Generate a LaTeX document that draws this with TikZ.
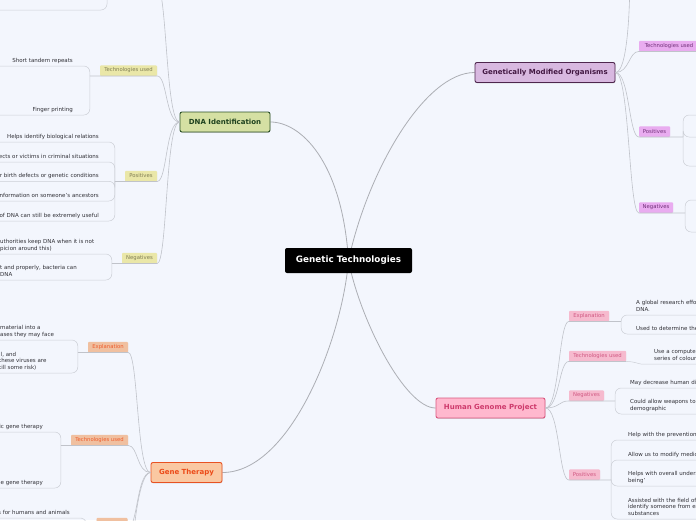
\documentclass[tikz,border=0pt]{standalone}
\usepackage{fontspec}
\setmainfont{DejaVu Sans}
\usetikzlibrary{backgrounds, shadows, calc}
\definecolor{canvas}{RGB}{243,246,253}
\definecolor{trunkgray}{RGB}{172,174,180}
\definecolor{linkgray}{RGB}{192,195,202}
\definecolor{twiggray}{RGB}{204,207,214}
\definecolor{leaftext}{RGB}{48,48,54}
\definecolor{dnafill}{RGB}{213,224,163}
\definecolor{dnaedge}{RGB}{44,82,40}
\definecolor{dnatext}{RGB}{30,66,30}
\definecolor{dnasubfill}{RGB}{234,231,168}
\definecolor{dnasubtext}{RGB}{128,126,84}
\definecolor{gmofill}{RGB}{216,184,224}
\definecolor{gmoedge}{RGB}{78,38,78}
\definecolor{gmotext}{RGB}{66,24,66}
\definecolor{gmosubfill}{RGB}{233,172,240}
\definecolor{gmosubtext}{RGB}{112,48,120}
\definecolor{genefill}{RGB}{250,200,162}
\definecolor{geneedge}{RGB}{232,82,34}
\definecolor{genetext}{RGB}{236,74,24}
\definecolor{genesubfill}{RGB}{240,192,160}
\definecolor{genesubtext}{RGB}{238,92,44}
\definecolor{hgpfill}{RGB}{255,184,206}
\definecolor{hgpedge}{RGB}{218,88,128}
\definecolor{hgptext}{RGB}{206,58,108}
\definecolor{hgpsubfill}{RGB}{246,186,206}
\definecolor{hgpsubtext}{RGB}{208,88,130}

\begin{document}
\begin{tikzpicture}[
  x=1pt, y=-1pt,
  root/.style={fill=black, rounded corners=2pt, text=white, font=\fontsize{8.8}{10}\selectfont\bfseries, minimum width=127pt, minimum height=25pt},
  topic/.style={draw, line width=0.9pt, rounded corners=2pt, font=\fontsize{7}{8}\selectfont\bfseries, minimum height=20pt, drop shadow={shadow xshift=0.3pt, shadow yshift=-0.8pt, opacity=0.3}},
  sub/.style={rounded corners=1pt, font=\fontsize{5.3}{6}\selectfont, minimum height=10.5pt, inner xsep=2pt, inner ysep=0pt, drop shadow={shadow xshift=0pt, shadow yshift=-0.6pt, opacity=0.15}},
  dnasub/.style={sub, fill=dnasubfill, text=dnasubtext},
  gmosub/.style={sub, fill=gmosubfill, text=gmosubtext},
  genesub/.style={sub, fill=genesubfill, text=genesubtext},
  hgpsub/.style={sub, fill=hgpsubfill, text=hgpsubtext},
  leaf/.style={font=\fontsize{5.5}{6.5}\selectfont, text=leaftext, inner xsep=0pt, inner ysep=1.4pt, execute at end node={\strut}},
  leafl/.style={leaf, anchor=south east, align=right, text width=140pt},
  leafm/.style={leaf, anchor=south west, align=left},
  leafr/.style={leaf, anchor=south west, align=left, text width=150pt},
  trunk/.style={draw=trunkgray, line width=0.8pt},
  link/.style={draw=linkgray, line width=0.6pt},
  twig/.style={draw=twiggray, line width=0.5pt, rounded corners=6pt}
]
\useasboundingbox (0,0) rectangle (696,520);
\clip (0,0) rectangle (696,520);

% centre and main topics
\node[root] (genetic) at (348.5,260.5) {Genetic Technologies};
\node[topic, fill=dnafill, draw=dnaedge, text=dnatext, minimum width=90pt] (dna) at (225,122) {DNA Identification};
\node[topic, fill=gmofill, draw=gmoedge, text=gmotext, minimum width=140pt] (gmo) at (545,72.5) {Genetically Modified Organisms};
\node[topic, fill=genefill, draw=geneedge, text=genetext, minimum width=71pt] (gene) at (186.5,472.5) {Gene Therapy};
\node[topic, fill=hgpfill, draw=hgpedge, text=hgptext, minimum width=109pt] (hgp) at (490.5,408) {Human Genome Project};

% DNA Identification
\coordinate (dnaexp) at (157,-14);
\node[dnasub, minimum width=57pt] (dnatech) at (128.5,70.5) {Technologies used};
\node[dnasub, minimum width=32pt] (dnapos) at (141,176) {Positives};
\node[dnasub, minimum width=35pt] (dnaneg) at (139.5,258) {Negatives};

\draw[link] (dna.west) .. controls +(-14,0) and +(10,0) .. (dnaexp) -- ++(-50,0) coordinate (dnaexpj);
\draw[link] (dna.west) .. controls +(-14,0) and +(10,0) .. (dnatech.south east) -- (dnatech.south west) -- ++(-10,0) coordinate (dnatechj);
\draw[link] (dna.west) .. controls +(-14,0) and +(10,0) .. (dnapos.south east) -- (dnapos.south west) -- ++(-10,0) coordinate (dnaposj);
\draw[link] (dna.west) .. controls +(-14,0) and +(10,0) .. (dnaneg.south east) -- (dnaneg.south west) -- ++(-10,0) coordinate (dnanegj);

\coordinate (dnaex1) at (-10,10);
\node[leafl] (dnat1) at (73,66) {Short tandem repeats};
\node[leafl] (dnat2) at (73,115) {Finger printing};
\node[leafl] (dnap1) at (99,142) {Helps identify biological relations};
\node[leafl] (dnap2) at (99,162) {ects or victims in criminal situations};
\node[leafl] (dnap3) at (99,181.25) {r birth defects or genetic conditions};
\node[leafl] (dnap4) at (99,201) {information on someone's ancestors};
\node[leafl] (dnap5) at (99,221) {of DNA can still be extremely useful};
\node[leafm] (dnan1) at (0,254) {uthorities keep DNA when it is not\\picion around this)};
\node[leafm] (dnan2) at (0,280) {t and properly, bacteria can\\DNA};

\draw[twig] (dnaexpj) |- (dnaex1);
\foreach \n in {dnat1,dnat2} \draw[twig] (dnatechj) |- (\n.south west);
\foreach \n in {dnap1,dnap2,dnap3,dnap4,dnap5} \draw[twig] (dnaposj) |- (\n.south west);
\foreach \n in {dnan1,dnan2} \draw[twig] (dnanegj) |- ([xshift=-2pt]\n.south west);

% Genetically Modified Organisms
\coordinate (gmotop) at (630,-30);
\node[gmosub, minimum width=60pt] (gmotech) at (669,46) {Technologies used};
\node[gmosub, minimum width=31pt] (gmopos) at (654.5,131.5) {Positives};
\node[gmosub, minimum width=34pt] (gmoneg) at (656,207.5) {Negatives};

\draw[link] (gmo.east) .. controls +(12,0) and +(0,40) .. (gmotop);
\draw[link] (gmo.east) .. controls +(14,0) and +(-10,0) .. (gmotech.south west) -- (gmotech.south east) -- ++(10,0);
\draw[link] (gmo.east) .. controls +(14,0) and +(-10,0) .. (gmopos.south west) -- (gmopos.south east) -- ++(13,0) coordinate (gmoposj);
\draw[link] (gmo.east) .. controls +(14,0) and +(-10,0) .. (gmoneg.south west) -- (gmoneg.south east) -- ++(12,0) coordinate (gmonegj);

\coordinate (gmop1) at (720,115);
\coordinate (gmop2) at (720,137);
\coordinate (gmop3) at (720,166);
\coordinate (gmon1) at (720,200);
\coordinate (gmon2) at (720,232);
\foreach \n in {gmop1,gmop2,gmop3} \draw[twig] (gmoposj) |- (\n);
\foreach \n in {gmon1,gmon2} \draw[twig] (gmonegj) |- (\n);

% Gene Therapy
\node[genesub, minimum width=40pt] (geneexp) at (108,347) {Explanation};
\node[genesub, minimum width=57pt] (genetech) at (99.5,440) {Technologies used};
\node[genesub, minimum width=31pt] (genepos) at (112,523) {};
\coordinate (geneneg) at (130,600);

\draw[link] (gene.west) .. controls +(-14,0) and +(10,0) .. (geneexp.south east) -- (geneexp.south west) -- ++(-10,0) coordinate (geneexpj);
\draw[link] (gene.west) .. controls +(-14,0) and +(10,0) .. (genetech.south east) -- (genetech.south west) -- ++(-10,0) coordinate (genetechj);
\draw[link] (gene.west) .. controls +(-14,0) and +(10,0) .. (genepos.south east) -- (genepos.south west) -- ++(-10,0) coordinate (geneposj);
\draw[link] (gene.west) .. controls +(-14,0) and +(0,-40) .. (geneneg);

\node[leafm] (genee1) at (0,340) {material into a\\ases they may face};
\node[leafm] (genee2) at (-1,373) {ll, and\\these viruses are\\till some risk)};
\node[leafl] (genet1) at (43,432) {ic gene therapy};
\node[leafl] (genet2) at (43,488) {ne gene therapy};
\node[leafl] (genep1) at (70,518) {s for humans and animals};

\foreach \n in {genee1,genee2} \draw[twig] (geneexpj) |- ([xshift=-2pt]\n.south west);
\foreach \n in {genet1,genet2} \draw[twig] (genetechj) |- (\n.south west);
\draw[twig] (geneposj) |- (genep1.south west);

% Human Genome Project
\node[hgpsub, minimum width=40pt] (hgpexp) at (589,316) {Explanation};
\node[hgpsub, minimum width=57pt] (hgptech) at (597.5,356) {Technologies used};
\node[hgpsub, minimum width=35pt] (hgpneg) at (586.5,395.5) {Negatives};
\node[hgpsub, minimum width=31pt] (hgppos) at (584.5,474.5) {Positives};

\draw[link] (hgp.east) .. controls +(14,0) and +(-10,0) .. (hgpexp.south west) -- (hgpexp.south east) -- ++(12,0) coordinate (hgpexpj);
\draw[link] (hgp.east) .. controls +(14,0) and +(-10,0) .. (hgptech.south west) -- (hgptech.south east);
\draw[link] (hgp.east) .. controls +(14,0) and +(-10,0) .. (hgpneg.south west) -- (hgpneg.south east) -- ++(11,0) coordinate (hgpnegj);
\draw[link] (hgp.east) .. controls +(14,0) and +(-10,0) .. (hgppos.south west) -- (hgppos.south east) -- ++(11,0) coordinate (hgpposj);

\node[leafr] (hgpe1) at (636,315) {A global research effo\\DNA.};
\node[leafr] (hgpe2) at (636,334) {Used to determine the};
\node[leafr] (hgpt1) at (654,364) {Use a computer\\series of colour};
\node[leafr] (hgpn1) at (630,388) {May decrease human di};
\node[leafr] (hgpn2) at (630,414) {Could allow weapons to\\demographic};
\node[leafr] (hgpp1) at (628,440) {Help with the prevention};
\node[leafr] (hgpp2) at (628,460) {Allow us to modify medic};
\node[leafr] (hgpp3) at (628,486) {Helps with overall unders\\being'};
\node[leafr] (hgpp4) at (628,519) {Assisted with the field of\\identify someone from ex\\substances};

\foreach \n in {hgpe1,hgpe2} \draw[twig] (hgpexpj) |- (\n.south east);
\draw[twig] (hgptech.south east) to[out=0,in=180] ([xshift=-7pt]hgpt1.south west) -- (hgpt1.south east);
\foreach \n in {hgpn1,hgpn2} \draw[twig] (hgpnegj) |- (\n.south east);
\foreach \n in {hgpp1,hgpp2,hgpp3,hgpp4} \draw[twig] (hgpposj) |- (\n.south east);

% trunks from the centre
\begin{scope}[on background layer]
  \fill[canvas] (0,0) rectangle (696,520);
  \draw[trunk] (genetic.center) .. controls (342,160) and (300,122) .. (dna.east);
  \draw[trunk] (genetic.center) .. controls (368,170) and (425,72.5) .. (gmo.west);
  \draw[trunk] (genetic.center) .. controls (342,340) and (290,472.5) .. (gene.east);
  \draw[trunk] (genetic.center) .. controls (360,320) and (405,408) .. (hgp.west);
\end{scope}
\end{tikzpicture}
\end{document}
